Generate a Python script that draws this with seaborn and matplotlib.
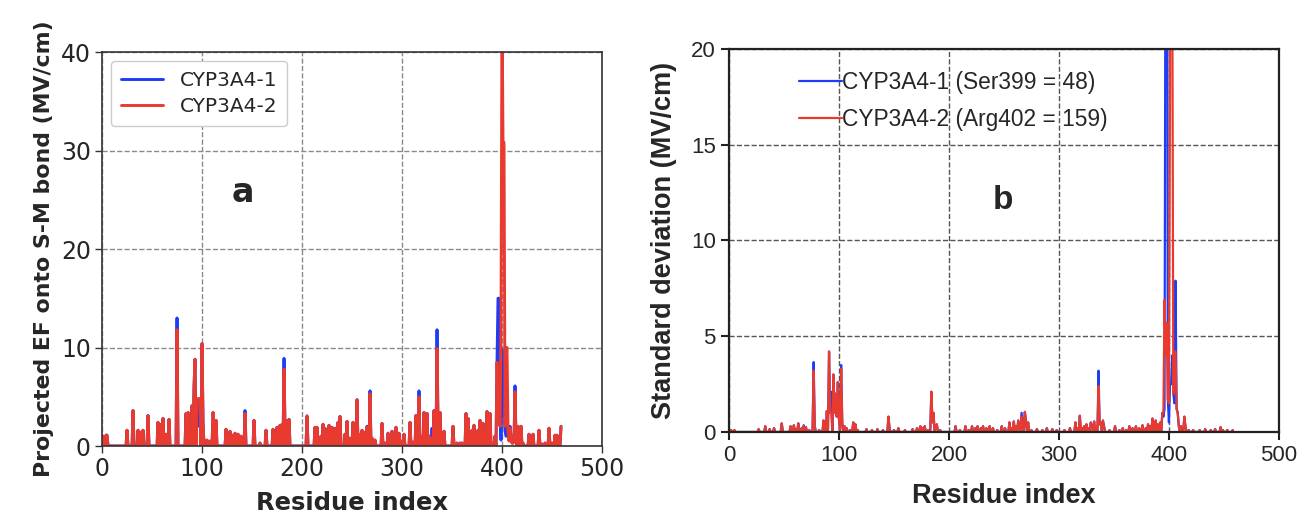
import numpy as np
import pandas as pd
import seaborn as sns
import matplotlib.pyplot as plt

# ---- panel a: projected EF per residue (peaks, rest ~0)
ef_n = 460
ef_res = [1, 4, 5, 25, 31, 36, 38, 41, 46, 56, 58, 61, 64, 67, 84, 86, 88, 90, 92, 93,
          97, 98, 100, 101, 103, 105, 108, 111, 112, 114, 124, 126, 128, 130, 133, 136,
          139, 152, 158, 164, 171, 173, 175, 177, 178, 180, 183, 185, 187, 205, 213,
          215, 219, 221, 223, 225, 227, 230, 233, 236, 238, 243, 245, 248, 251, 253,
          255, 257, 260, 263, 270, 273, 280, 283, 286, 288, 290, 292, 294, 297, 299,
          302, 308, 311, 314, 319, 322, 324, 325, 327, 332, 336, 338, 340, 342, 351,
          355, 358, 360, 364, 366, 368, 370, 372, 374, 376, 378, 379, 381, 383, 385,
          386, 388, 390, 393, 416, 419, 421, 427, 429, 431, 437, 440, 443, 447, 450,
          453, 455, 459]
ef_val = [1.0, 1.1, 1.1, 1.6, 3.6, 1.6, 1.4, 1.6, 3.1, 2.4, 2.2, 2.8, 1.2, 2.7, 3.3, 3.4,
          1.5, 4.1, 6.0, 8.8, 4.8, 4.5, 10.4, 2.5, 0.5, 0.6, 0.5, 3.4, 2.0, 2.6, 1.7, 0.8,
          1.5, 1.1, 1.3, 1.2, 1.0, 2.6, 0.3, 1.6, 1.7, 1.0, 1.9, 1.5, 2.1, 2.2, 1.5, 2.6,
          2.7, 3.05, 1.9, 1.9, 1.0, 2.2, 1.8, 1.2, 2.1, 1.9, 1.8, 2.4, 3.0, 1.2, 2.5, 0.8,
          2.4, 1.0, 4.7, 1.2, 1.6, 1.4, 0.8, 0.6, 2.3, 0.3, 1.3, 0.4, 1.5, 0.6, 1.9, 1.3,
          0.5, 1.2, 2.4, 0.4, 3.1, 1.0, 3.4, 1.8, 3.3, 1.0, 3.6, 2.0, 3.4, 1.0, 1.5, 2.0,
          0.3, 0.3, 0.3, 3.3, 2.8, 0.6, 1.6, 2.1, 0.8, 1.6, 2.6, 1.0, 2.3, 0.6, 3.5, 1.0,
          3.3, 0.3, 1.0, 2.0, 2.0, 0.3, 1.2, 0.5, 1.2, 1.6, 0.2, 0.3, 1.8, 0.3, 1.1, 1.1,
          2.0]
# where the two systems differ
ef1_res = [75, 95, 96, 143, 182, 265, 268, 317, 330, 335,
           395, 396, 397, 398, 399, 400, 401, 402, 403, 404, 405, 406, 407, 408, 409,
           410, 411, 412, 413, 414]
ef1_val = [13.0, 4.3, 2.0, 3.6, 8.9, 2.0, 5.6, 5.6, 1.8, 11.8,
           8.5, 15.0, 15.0, 5.0, 0.6, 9.8, 3.0, 3.8, 1.5, 1.0, 1.0, 2.0, 0.8, 2.0, 1.0,
           0.3, 0.3, 0.5, 6.1, 0.5]
ef2_res = ef1_res
ef2_val = [11.8, 4.8, 4.8, 3.3, 7.8, 1.9, 5.3, 5.0, 0.8, 9.9,
           8.5, 4.0, 3.0, 2.0, 12.0, 45.0, 30.8, 30.8, 2.0, 10.0, 10.0, 1.5, 0.5, 1.8, 1.0,
           0.3, 0.3, 0.5, 5.5, 0.5]

# ---- panel b: standard deviation per residue
sd_n = 459
sd_res = [2, 5, 27, 33, 37, 41, 48, 56, 59, 61, 63, 66, 70, 73, 78, 82, 86, 89, 91, 92,
          95, 96, 97, 98, 99, 100, 103, 105, 107, 110, 113, 115, 117, 125, 130, 135,
          140, 145, 146, 150, 154, 160, 167, 171, 174, 176, 178, 181, 184, 185, 186,
          188, 189, 192, 206, 210, 215, 218, 221, 224, 226, 229, 231, 234, 237, 240,
          244, 248, 251, 255, 257, 259, 261, 263, 264, 267, 269, 270, 272, 275, 280,
          285, 289, 294, 298, 305, 310, 315, 317, 319, 321, 323, 325, 327, 329, 330,
          332, 334, 337, 338, 340, 341, 346, 351, 355, 358, 361, 364, 367, 370, 373,
          376, 379, 381, 383, 385, 386, 388, 390, 392, 394, 411, 414, 415, 418, 422,
          428, 433, 438, 442, 447, 449, 453, 458]
sd_val = [0.1, 0.1, 0.15, 0.3, 0.15, 0.2, 0.45, 0.3, 0.35, 0.15, 0.45, 0.2, 0.25, 0.1,
          0.3, 0.1, 0.6, 1.1, 4.2, 1.0, 3.0, 1.0, 2.0, 0.8, 2.6, 0.7, 0.5, 0.3, 0.2, 0.1,
          0.5, 0.4, 0.1, 0.15, 0.1, 0.15, 0.1, 0.8, 0.2, 0.1, 0.2, 0.1, 0.15, 0.2, 0.3,
          0.2, 0.3, 0.1, 2.1, 0.5, 1.0, 0.3, 0.4, 0.1, 0.3, 0.1, 0.3, 0.1, 0.3, 0.2, 0.3,
          0.2, 0.3, 0.2, 0.3, 0.2, 0.1, 0.3, 0.2, 0.5, 0.2, 0.55, 0.3, 0.6, 0.3, 0.5, 1.05,
          0.6, 0.5, 0.1, 0.15, 0.1, 0.2, 0.15, 0.1, 0.1, 0.2, 0.5, 0.2, 0.85, 0.2, 0.3,
          0.4, 0.2, 0.5, 0.3, 0.55, 0.3, 0.4, 0.5, 0.6, 0.3, 0.1, 0.3, 0.1, 0.2, 0.1, 0.3,
          0.2, 0.3, 0.2, 0.35, 0.2, 0.4, 0.3, 0.7, 0.3, 0.6, 0.4, 0.5, 1.0, 0.3, 0.8, 0.3,
          0.1, 0.1, 0.1, 0.15, 0.1, 0.15, 0.25, 0.1, 0.1, 0.1]
sd1_res = [68, 77, 93, 102, 266, 336,
           395, 396, 397, 398, 399, 400, 401, 402, 403, 404, 405, 406, 407, 408, 409]
sd1_val = [0.35, 3.65, 2.1, 3.5, 1.0, 3.2,
           0.8, 1.2, 30.0, 48.0, 1.7, 0.5, 2.5, 2.5, 4.0, 2.0, 1.5, 7.9, 1.2, 1.0, 0.3]
sd2_res = sd1_res
sd2_val = [0.3, 3.2, 1.0, 3.3, 0.8, 2.4,
           1.0, 6.9, 4.0, 5.7, 1.7, 1.5, 18.5, 159.0, 25.0, 2.0, 4.2, 4.2, 1.2, 1.0, 0.3]

labels_a = ["CYP3A4-1", "CYP3A4-2"]
labels_b = ["CYP3A4-1 (Ser399 = 48)", "CYP3A4-2 (Arg402 = 159)"]
blue, red = "#1f3cf5", "#e83a2f"


def series(n, base_res, base_val, own_res, own_val):
    y = np.zeros(n)
    y[base_res] = base_val
    y[own_res] = own_val
    return y


def long_df(n, ys, names):
    return pd.concat([pd.DataFrame({"residue": np.arange(n), "value": y, "system": name})
                      for y, name in zip(ys, names)], ignore_index=True)


df_a = long_df(ef_n, [series(ef_n, ef_res, ef_val, ef1_res, ef1_val),
                      series(ef_n, ef_res, ef_val, ef2_res, ef2_val)], labels_a)
df_b = long_df(sd_n, [series(sd_n, sd_res, sd_val, sd1_res, sd1_val),
                      series(sd_n, sd_res, sd_val, sd2_res, sd2_val)], labels_b)

sns.set_theme(style="ticks")
plt.rcParams["font.family"] = ["DejaVu Sans"]

fig = plt.figure(figsize=(12.98, 5.13), dpi=100)
ax1 = fig.add_axes([0.0786, 0.1306, 0.3852, 0.768])
ax2 = fig.add_axes([0.5616, 0.1579, 0.4237, 0.7466])

# --- panel a
sns.lineplot(data=df_a, x="residue", y="value", hue="system", palette=[blue, red],
             estimator=None, linewidth=2.1, ax=ax1)
ax1.set_xlim(0, 500)
ax1.set_ylim(0, 40)
ax1.set_xticks(range(0, 501, 100))
ax1.set_yticks(range(0, 41, 10))
ax1.grid(True, linestyle="--", color="#8a8a8a", linewidth=1.0)
ax1.tick_params(labelsize=17, length=5, width=1, direction="out", color="#333333", pad=3)
for s in ax1.spines.values():
    s.set_color("#333333")
    s.set_linewidth(1.2)
ax1.set_xlabel("Residue index", fontsize=17.5, fontweight="bold", labelpad=7)
ax1.set_ylabel("Projected EF onto S-M bond (MV/cm)", fontsize=15.8, fontweight="bold",
               labelpad=5)
h, l = ax1.get_legend_handles_labels()
ax1.legend(h, l, loc="upper left", fontsize=14.5, handlelength=2.1, labelspacing=0.35,
           borderpad=0.5, handletextpad=0.8, frameon=True, fancybox=True,
           edgecolor="#cccccc", framealpha=1.0, borderaxespad=0.45)
ax1.text(141, 25.7, "a", fontsize=24, fontweight="bold", ha="center", va="center")

# --- panel b
sns.lineplot(data=df_b, x="residue", y="value", hue="system", palette=[blue, red],
             estimator=None, linewidth=1.6, ax=ax2)
ax2.set_xlim(0, 500)
ax2.set_ylim(0, 20)
ax2.set_xticks(range(0, 501, 100))
ax2.set_yticks(range(0, 21, 5))
ax2.grid(True, linestyle="--", color="#555555", linewidth=1.0)
ax2.tick_params(labelsize=16, length=6, width=1.5, direction="out", color="#222222")
for lab in ax2.get_xticklabels() + ax2.get_yticklabels():
    lab.set_family("Liberation Sans")
for s in ax2.spines.values():
    s.set_color("#222222")
    s.set_linewidth(1.6)
ax2.set_xlabel("Residue index", fontsize=19.5, fontweight="bold", family="Liberation Sans",
               labelpad=12)
ax2.set_ylabel("Standard deviation (MV/cm)", fontsize=19.5, fontweight="bold",
               family="Liberation Sans", labelpad=10)
h, l = ax2.get_legend_handles_labels()
ax2.legend(h, l, loc="upper left", bbox_to_anchor=(0.09, 0.995),
           prop={"family": "Liberation Sans", "size": 16.4}, handlelength=1.9,
           handletextpad=0.0, labelspacing=0.6, frameon=False)
ax2.text(249.5, 12.1, "b", fontsize=24, fontweight="bold", ha="center", va="center",
         family="Liberation Sans")

fig.savefig("out.png", dpi=100)
